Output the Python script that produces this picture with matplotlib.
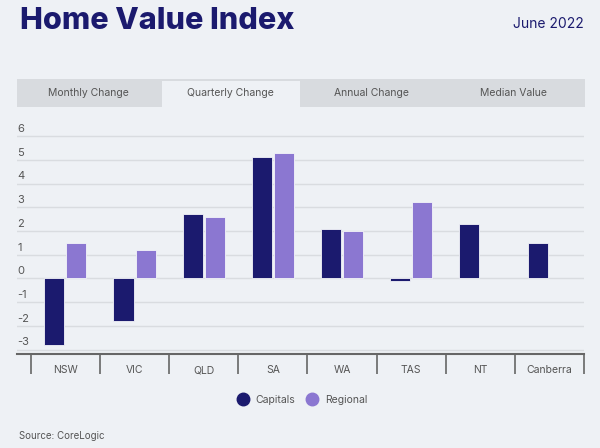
import matplotlib.pyplot as plt
import matplotlib.transforms as mtransforms
from matplotlib.patches import Rectangle
from matplotlib.lines import Line2D
import numpy as np

# Données
regions = ['NSW', 'VIC', 'QLD', 'SA', 'WA', 'TAS', 'NT', 'Canberra']
capitals = [-2.8, -1.8, 2.7, 5.1, 2.1, -0.1, 2.3, 1.5]
regional = [1.5, 1.2, 2.6, 5.3, 2.0, 3.2, np.nan, np.nan]
y_ticks = [-3, -2, -1, 0, 1, 2, 3, 4, 5, 6]
tabs = ['Monthly Change', 'Quarterly Change', 'Annual Change', 'Median Value']
active_tab = 'Quarterly Change'

# Couleurs
bg_color = '#EEF1F5'
tab_color = '#D8DBDF'
navy = '#1B1A6E'
purple = '#8B77D1'
text_grey = '#555555'

plt.rcParams['font.family'] = ['Inter', 'DejaVu Sans']

fig = plt.figure(figsize=(6, 4.48), dpi=100, facecolor=bg_color)

# Calque de fond en pixels pour le titre et les onglets
bg = fig.add_axes([0, 0, 1, 1], zorder=0)
bg.set_xlim(0, 600)
bg.set_ylim(448, 0)
bg.axis('off')

bg.text(20, 21, 'Home Value Index', fontsize=22, fontweight='heavy',
        color=navy, va='center', ha='left')
bg.text(584, 24, 'June 2022', fontsize=10, color=navy, va='center', ha='right')

# Onglets
bg.add_patch(Rectangle((17, 79), 568, 28, color=tab_color, lw=0))
tab_w = 568 / len(tabs)
for i, t in enumerate(tabs):
    left = 17 + i * tab_w
    if t == active_tab:
        bg.add_patch(Rectangle((left + 3, 81), tab_w - 4, 26, color=bg_color, lw=0))
    bg.text(left + tab_w / 2, 93, t, fontsize=7.5, color=text_grey,
            ha='center', va='center')

bg.text(19, 436, 'Source: CoreLogic', fontsize=7, color=text_grey,
        ha='left', va='center')

# Graphique principal
ax = fig.add_axes([17 / 600, (448 - 354.3) / 448, 567 / 600, 220.6 / 448], zorder=1)
ax.set_facecolor('none')

x = np.arange(len(regions))
ax.bar(x - 0.16, capitals, 0.29, color=navy, edgecolor='#F4F5F9', linewidth=0.6, zorder=3)
ax.bar(x + 0.16, regional, 0.29, color=purple, edgecolor='#F4F5F9', linewidth=0.6, zorder=3)

ax.set_xlim(-0.7, 7.5)
ax.set_ylim(-3.2, 6.1)

for s in ['top', 'left', 'right']:
    ax.spines[s].set_visible(False)
ax.spines['bottom'].set_color('#666666')
ax.spines['bottom'].set_linewidth(1.5)

ax.set_yticks(y_ticks)
ax.yaxis.grid(True, color='#D9DCE0', linewidth=1)
ax.set_axisbelow(True)
ax.tick_params(axis='y', length=0, labelleft=False)

# Étiquettes de l'axe Y au-dessus des lignes
trans = mtransforms.offset_copy(ax.get_yaxis_transform(), fig=fig, x=0, y=1.5, units='points')
for v in y_ticks:
    ax.text(0, v, str(v), transform=trans, fontsize=8, color=text_grey,
            ha='left', va='bottom')

ax.set_xticks(x)
ax.set_xticklabels(regions)
ax.tick_params(axis='x', which='major', length=0, pad=8, labelsize=7.5, labelcolor=text_grey)
ax.set_xticks(np.arange(-0.5, len(regions), 1), minor=True)
ax.tick_params(axis='x', which='minor', length=14.5, width=1.2, color='#666666')

# Légende
handles = [Line2D([], [], marker='o', linestyle='', markersize=9, color=navy, label='Capitals'),
           Line2D([], [], marker='o', linestyle='', markersize=9, color=purple, label='Regional')]
fig.legend(handles=handles, loc='center', bbox_to_anchor=(0.5, 1 - 400 / 448),
           ncol=2, frameon=False, fontsize=7.5, labelcolor=text_grey,
           handletextpad=0.2, columnspacing=0.6)

fig.savefig('out.png', dpi=100, facecolor=bg_color)
